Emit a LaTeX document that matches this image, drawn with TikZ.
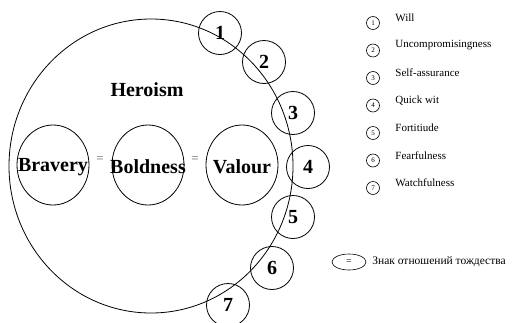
\documentclass[tikz,border=0pt]{standalone}
\usepackage{fontspec}
\setmainfont{Liberation Serif}
\usetikzlibrary{shapes.geometric}
\begin{document}
\begin{tikzpicture}[x=1pt,y=-1pt,line width=0.8pt,
  every node/.style={inner sep=0pt},
  big/.style={draw,ellipse,minimum width=284pt,minimum height=294pt},
  numc/.style={draw,circle,minimum size=43pt,font=\fontsize{20}{20}\selectfont\bfseries},
  inner/.style={draw,ellipse,minimum width=72pt,minimum height=80pt},
  lbl/.style={font=\fontsize{20}{20}\selectfont\bfseries},
  eqs/.style={font=\fontsize{13}{13}\selectfont, text=black!60},
  legc/.style={draw,circle,line width=0.6pt,minimum size=13pt,font=\fontsize{7}{7}\selectfont},
  legt/.style={anchor=west,font=\fontsize{11}{11}\selectfont}]
\useasboundingbox (0,0) rectangle (531,322);
\node[big] (H) at (151,166) {};
\node[lbl] (hero) at (147,90) {Heroism};
\node[inner] (brav) at (53,165) {};
\node[inner] (bold) at (148,165) {};
\node[inner] (val) at (242,165) {};
\node[lbl] (bravt) at (53,167) {Bravery};
\node[lbl] (boldt) at (148,167) {Boldness};
\node[lbl] (valt) at (242,167) {Valour};
\node[eqs] (e1) at (100,160) {=};
\node[eqs] (e2) at (195,160) {=};
\node[numc] (n1) at (220,33) {1};
\node[numc] (n2) at (264,62) {2};
\node[numc] (n3) at (293,113) {3};
\node[numc] (n4) at (308,167) {4};
\node[numc] (n5) at (293,217) {5};
\node[numc] (n6) at (272,268) {6};
\node[numc] (n7) at (228,305) {7};
\foreach \i/\t [count=\k from 0] in {1/Will,2/Uncompromisingness,3/Self-assurance,4/Quick wit,5/Fortitiude,6/Fearfulness,7/Watchfulness}{
  \node[legc] (l\i) at (373,23+27.5*\k) {\i};
  \node[legt] (t\i) at (395,18+27.5*\k) {\t};
}
\node[draw,ellipse,line width=0.6pt,minimum width=34pt,minimum height=16pt,font=\fontsize{10}{10}\selectfont] (le) at (349,262) {=};
\node[anchor=west,font=\fontsize{11.5}{11.5}\selectfont] (lt) at (372,262) {Знак отношений тождества};
\end{tikzpicture}
\end{document}
